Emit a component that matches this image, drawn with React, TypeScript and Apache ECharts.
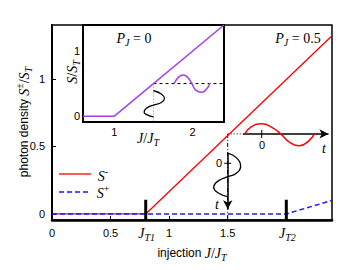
import React, { useEffect, useRef } from "react";
import * as echarts from "echarts";

// ---- data ----
const mainTicksX = [0, 0.5, 1, 1.5];
const thresholdX = [0.8, 2.0];
const thresholdNames = ["T1", "T2"];
const mainTicksY = [0, 0.5, 1];
const injMinus = [0, 0.8, 2.39];
const sMinus = [0, 0, 1.32];
const injPlus = [0, 2.0, 2.39];
const sPlus = [0, 0, 0.1];
const insetJ = [0.6, 1, 2.4];
const insetS = [0, 0, 1.4];
const insetTicksX = [1, 2];
const insetTicksY = [0, 1];
const legendNames = ["S-", "S+"];

// illustration curves (main-plot coords)
const redWave = [
  [1.645, 0.593], [1.7, 0.645], [1.79, 0.668], [1.88, 0.64], [1.952, 0.593],
  [2.03, 0.53], [2.11, 0.505], [2.19, 0.54], [2.24, 0.593],
];
const blackWave = [
  [1.5, 0.45], [1.575, 0.415], [1.61, 0.35], [1.57, 0.3], [1.5, 0.276],
  [1.42, 0.245], [1.38, 0.198], [1.42, 0.155], [1.5, 0.128],
];
const mainOperating = [1.5, 0.593];
const mainTimeAxisX = [1.63, 2.36];
const mainTimeAxisY = [0.45, 0.035];
const mainTimeZeroX = 1.79;
const mainTimeZeroY = 0.375;
// inset coords
const insetBlackWave = [
  [1.5, 0.39], [1.6, 0.34], [1.64, 0.27], [1.6, 0.21], [1.5, 0.17],
  [1.41, 0.12], [1.38, 0.06], [1.42, 0.02], [1.5, -0.01],
];
const insetPurpleWave = [
  [1.765, 0.505], [1.82, 0.6], [1.88, 0.632], [1.94, 0.59], [1.985, 0.51],
  [2.04, 0.4], [2.115, 0.366], [2.18, 0.42], [2.22, 0.505],
];
const insetOperating = [1.5, 0.5];

const SANS = "Liberation Sans, Arial, Helvetica, sans-serif";
const SERIF = "Liberation Serif, Times New Roman, serif";

const RED = "#ff0000";
const BLUE = "#1a1aff";
const PURPLE = "#a33ff0";

const rich: any = {
  s: { fontFamily: SANS, fontSize: 12, color: "#000" },
  n: { fontFamily: SANS, fontSize: 11, color: "#000" },
  i: { fontFamily: SERIF, fontStyle: "italic", fontSize: 14, color: "#000" },
  r: { fontFamily: SERIF, fontSize: 14, color: "#000" },
  sub: { fontFamily: SERIF, fontStyle: "italic", fontSize: 10, color: "#000", padding: [9, 0, 0, 0] },
  sup: { fontFamily: SERIF, fontSize: 10, color: "#000", padding: [0, 0, 9, 0] },
};

const MAIN = { xMin: 0, xMax: 2.39, yMin: -0.045, yMax: 1.4 };
const INSET = { xMin: 0.6, xMax: 2.4, yMin: -0.09, yMax: 1.4 };

export default function App() {
  const ref = useRef<HTMLDivElement>(null);
  useEffect(() => {
    if (!ref.current) return;
    const chart = echarts.init(ref.current, undefined, { renderer: "svg" });

    const zip = (xs: number[], ys: number[]) => xs.map((x, k) => [x, ys[k]]);

    const lineS = (data: any, opt: any) => ({
      type: "line",
      data,
      symbol: "none",
      silent: true,
      animation: false,
      ...opt,
    });

    const textEl = (x: number, y: number, text: string, extra: any = {}) => ({
      type: "text",
      x,
      y,
      silent: true,
      z: 100,
      ...extra,
      style: { text, rich, align: "center", verticalAlign: "middle", ...(extra.style || {}) },
    });

    const legendLine = (y: number, color: string, dash: any, width: number) => ({
      type: "line",
      silent: true,
      z: 100,
      shape: { x1: 59, y1: y, x2: 91, y2: y },
      style: { stroke: color, lineWidth: width, lineDash: dash },
    });

    const graphic: any[] = [
      textEl(24, 122, "{s|photon density }{i|S}{sup|±}{r|/}{i|S}{sub|T}", { rotation: Math.PI / 2 }),
      textEl(192, 253, "{s|injection }{i|J}{r|/}{i|J}{sub|T}"),
      textEl(134, 38, "{i|P}{sub|J}{r| = 0}"),
      textEl(298, 38, "{i|P}{sub|J}{r| = 0.5}"),
      textEl(72, 72, "{i|S}{r|/}{i|S}{sub|T}", { rotation: Math.PI / 2 }),
      textEl(148, 138, "{i|J}{r|/}{i|J}{sub|T}"),
      textEl(262, 145, "{n|0}"),
      textEl(324, 148, "{i|t}"),
      textEl(219, 163, "{n|0}"),
      textEl(217, 204, "{i|t}"),
      legendLine(174, RED, null, 1.3),
      legendLine(192, BLUE, [5, 3], 1.5),
      textEl(103, 176, "{i|S}{sup|-}"),
      textEl(103, 193, "{i|S}{sup|+}"),
    ];

    const option: any = {
      animation: false,
      backgroundColor: "#fff",
      grid: [
        { left: 52, top: 25, width: 280, height: 195, show: true, borderColor: "#000", borderWidth: 1.5 },
        { left: 83, top: 25, width: 141, height: 97, show: true, borderColor: "#000", borderWidth: 2, backgroundColor: "#fff", z: 3 },
      ],
      xAxis: [
        {
          type: "value", gridIndex: 0, min: MAIN.xMin, max: MAIN.xMax,
          splitLine: { show: false },
          axisLine: { onZero: false, lineStyle: { color: "#000", width: 2.5 } },
          axisTick: { inside: true, length: 4, customValues: mainTicksX, lineStyle: { color: "#000", width: 1 } },
          axisLabel: { customValues: mainTicksX, margin: 7, fontFamily: SANS, fontSize: 11, color: "#000" },
        },
        {
          type: "value", gridIndex: 1, min: INSET.xMin, max: INSET.xMax,
          splitLine: { show: false },
          axisLine: { onZero: false, lineStyle: { color: "#000", width: 2 } },
          axisTick: { inside: true, length: 4, customValues: insetTicksX, lineStyle: { color: "#000" } },
          axisLabel: { customValues: insetTicksX, margin: 4, fontFamily: SANS, fontSize: 11, color: "#000" },
        },
      ],
      yAxis: [
        {
          type: "value", gridIndex: 0, min: MAIN.yMin, max: MAIN.yMax,
          splitLine: { show: false },
          axisLine: { show: true, onZero: false, lineStyle: { color: "#000", width: 2 } },
          axisTick: { show: true, inside: true, length: 4, customValues: mainTicksY, lineStyle: { color: "#000" } },
          axisLabel: { customValues: mainTicksY, margin: 7, fontFamily: SANS, fontSize: 11, color: "#000" },
        },
        {
          type: "value", gridIndex: 1, min: INSET.yMin, max: INSET.yMax,
          splitLine: { show: false },
          axisLine: { show: true, onZero: false, lineStyle: { color: "#000", width: 2 } },
          axisTick: { show: true, inside: true, length: 4, customValues: insetTicksY, lineStyle: { color: "#000" } },
          axisLabel: { customValues: insetTicksY, margin: 3, fontFamily: SANS, fontSize: 11, color: "#000" },
        },
      ],
      series: [
        // main guide lines
        lineS([[mainOperating[0], mainOperating[1]], [mainOperating[0], MAIN.yMin]], {
          xAxisIndex: 0, yAxisIndex: 0, lineStyle: { color: "#000", width: 1, type: [4, 2, 1, 2] }, z: 2,
        }),
        lineS([mainOperating, [mainTimeAxisX[0], mainOperating[1]]], {
          xAxisIndex: 0, yAxisIndex: 0, lineStyle: { color: "#000", width: 1, type: [1, 2] }, z: 2,
        }),
        lineS(zip(injMinus, sMinus), {
          name: legendNames[0], xAxisIndex: 0, yAxisIndex: 0, lineStyle: { color: RED, width: 1.3 }, z: 3,
        }),
        lineS(zip(injPlus, sPlus), {
          name: legendNames[1], xAxisIndex: 0, yAxisIndex: 0, lineStyle: { color: BLUE, width: 1.5, type: [5, 3] }, z: 4,
        }),
        ...thresholdX.map((x) =>
          lineS([[x, MAIN.yMin], [x, 0.105]], { xAxisIndex: 0, yAxisIndex: 0, lineStyle: { color: "#000", width: 3 }, z: 5 })
        ),
        lineS(redWave, { xAxisIndex: 0, yAxisIndex: 0, smooth: 0.5, lineStyle: { color: RED, width: 1.5 }, z: 5 }),
        lineS(blackWave, { xAxisIndex: 0, yAxisIndex: 0, smooth: 0.5, lineStyle: { color: "#000", width: 1.3 }, z: 5 }),
        lineS([[mainTimeZeroX, mainOperating[1] - 0.03], [mainTimeZeroX, mainOperating[1] + 0.03]], {
          xAxisIndex: 0, yAxisIndex: 0, lineStyle: { color: "#000", width: 1 }, z: 5,
        }),
        lineS([[mainOperating[0] - 0.03, mainTimeZeroY], [mainOperating[0] + 0.03, mainTimeZeroY]], {
          xAxisIndex: 0, yAxisIndex: 0, lineStyle: { color: "#000", width: 1 }, z: 5,
        }),
        {
          type: "line", xAxisIndex: 0, yAxisIndex: 0, data: [], silent: true, z: 6,
          markLine: {
            silent: true, animation: false, symbol: ["none", "arrow"], symbolSize: [7, 9],
            label: { show: false },
            lineStyle: { color: "#000", width: 1.5, type: "solid" },
            emphasis: { disabled: true },
            data: [
              [{ coord: [mainTimeAxisX[0], mainOperating[1]] }, { coord: [mainTimeAxisX[1], mainOperating[1]] }],
              [{ coord: [mainOperating[0], mainTimeAxisY[0]] }, { coord: [mainOperating[0], mainTimeAxisY[1]] }],
            ],
          },
        },
        // inset
        lineS([insetOperating, [INSET.xMax, insetOperating[1]]], {
          xAxisIndex: 1, yAxisIndex: 1, lineStyle: { color: "#000", width: 1, type: [3, 3] }, z: 10,
        }),
        lineS([insetOperating, [insetOperating[0], INSET.yMin]], {
          xAxisIndex: 1, yAxisIndex: 1, lineStyle: { color: "#888", width: 1, type: [1, 2] }, z: 10,
        }),
        lineS(zip(insetJ, insetS), {
          xAxisIndex: 1, yAxisIndex: 1, lineStyle: { color: PURPLE, width: 1.5 }, z: 11,
        }),
        lineS(insetBlackWave, { xAxisIndex: 1, yAxisIndex: 1, smooth: 0.5, lineStyle: { color: "#000", width: 1.3 }, z: 11 }),
        lineS(insetPurpleWave, { xAxisIndex: 1, yAxisIndex: 1, smooth: 0.5, lineStyle: { color: PURPLE, width: 1.5 }, z: 11 }),
      ],
      graphic,
    };
    chart.setOption(option);

    // threshold labels J_T1, J_T2 placed under their x positions
    const extra = thresholdX.map((x, k) => {
      const p = chart.convertToPixel({ gridIndex: 0 }, [x, MAIN.yMin]) as number[];
      return textEl(p[0] + 1, p[1] + 13, "{i|J}{sub|" + thresholdNames[k] + "}");
    });
    chart.setOption({ graphic: [...graphic, ...extra] });

    return () => chart.dispose();
  }, []);
  return <div ref={ref} style={{ width: 350, height: 270, position: "absolute", left: 0, top: 0 }} />;
}
